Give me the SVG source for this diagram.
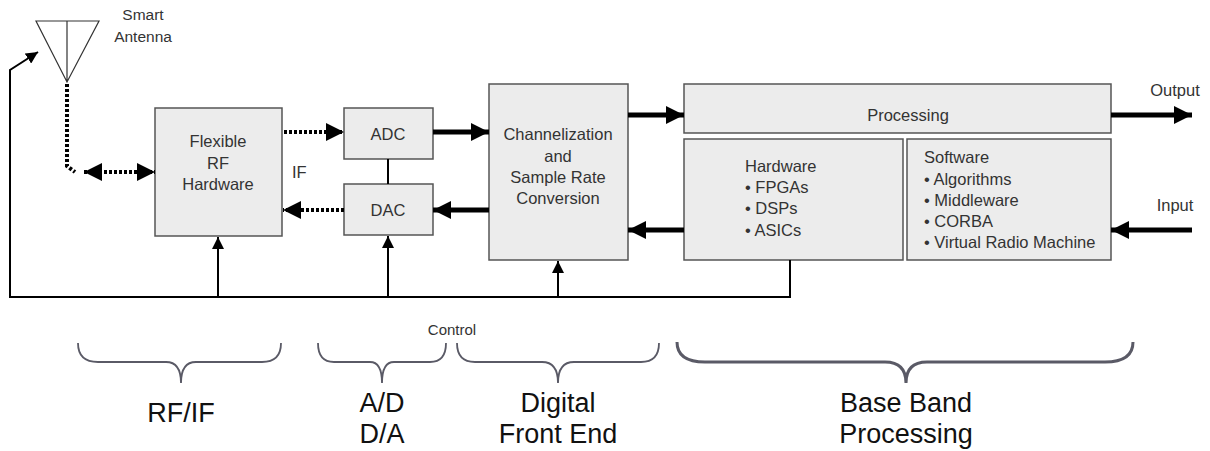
<svg xmlns="http://www.w3.org/2000/svg" width="1210" height="451" viewBox="0 0 1210 451">
<style>
.box{fill:#ececec;stroke:#555;stroke-width:1.5}
.t{font-family:"Liberation Sans",Arial,sans-serif;font-size:16.5px;fill:#333}
.tc{text-anchor:middle}
.big{font-family:"Liberation Sans",Arial,sans-serif;font-size:27px;fill:#111;text-anchor:middle}
.thick{stroke:#000;stroke-width:5;fill:none}
.dot{stroke:#000;stroke-width:4;stroke-dasharray:3 2;fill:none}
.thin{stroke:#000;stroke-width:2;fill:none}
.brace{stroke:#5a5a66;stroke-width:1.8;fill:none}
</style>
<defs>
<marker id="ah" markerUnits="userSpaceOnUse" markerWidth="18" markerHeight="18" refX="18" refY="9" orient="auto"><path d="M0,0 L18,9 L0,18 z" fill="#000"/></marker>
<marker id="ahs" markerUnits="userSpaceOnUse" markerWidth="18" markerHeight="18" refX="18" refY="9" orient="auto-start-reverse"><path d="M0,0 L18,9 L0,18 z" fill="#000"/></marker>
<marker id="as" markerUnits="userSpaceOnUse" markerWidth="12" markerHeight="12" refX="12" refY="6" orient="auto"><path d="M0,0 L12,6 L0,12 z" fill="#000"/></marker>
</defs>

<g id="antenna">
<path d="M36,21 L99,21 L67,82 Z M67,21 L67,82" fill="none" stroke="#333" stroke-width="1.2"/>
<text class="t tc" x="143" y="20" style="font-size:15.5px">Smart</text>
<text class="t tc" x="143" y="42" style="font-size:15.5px">Antenna</text>
</g>

<g id="rf">
<rect class="box" x="155" y="108" width="127" height="128"/>
<text class="t tc" x="218" y="147">Flexible</text>
<text class="t tc" x="218" y="169">RF</text>
<text class="t tc" x="218" y="190">Hardware</text>
</g>
<g id="adc">
<rect class="box" x="344" y="108" width="89" height="51"/>
<text class="t tc" x="388" y="140">ADC</text>
</g>
<g id="dac">
<rect class="box" x="344" y="184" width="89" height="51"/>
<text class="t tc" x="388" y="216">DAC</text>
</g>
<g id="chan">
<rect class="box" x="489" y="84" width="139" height="176"/>
<text class="t tc" x="558" y="140">Channelization</text>
<text class="t tc" x="558" y="162">and</text>
<text class="t tc" x="558" y="183">Sample Rate</text>
<text class="t tc" x="558" y="204">Conversion</text>
</g>
<g id="proc">
<rect class="box" x="684" y="84" width="427" height="49"/>
<text class="t tc" x="908" y="121">Processing</text>
</g>
<g id="hw">
<rect class="box" x="684" y="139" width="219" height="121"/>
<text class="t" x="745" y="172">Hardware</text>
<text class="t" x="745" y="193">• FPGAs</text>
<text class="t" x="745" y="214">• DSPs</text>
<text class="t" x="745" y="236">• ASICs</text>
</g>
<g id="sw">
<rect class="box" x="907" y="139" width="204" height="121"/>
<text class="t" x="924" y="163">Software</text>
<text class="t" x="924" y="185">• Algorithms</text>
<text class="t" x="924" y="206">• Middleware</text>
<text class="t" x="924" y="227">• CORBA</text>
<text class="t" x="924" y="248">• Virtual Radio Machine</text>
</g>

<g id="connectors">
<path class="dot" d="M67,84 L67,166 L75,172"/>
<path class="dot" d="M84,172 L155,172" marker-start="url(#ahs)" marker-end="url(#ahs)"/>
<path class="dot" d="M284,132 L344,132" marker-end="url(#ah)"/>
<path class="dot" d="M344,210 L283,210" marker-end="url(#ah)"/>
<path class="thin" d="M388,159 L388,184"/>
<path class="thick" d="M433,132 L489,132" marker-end="url(#ah)"/>
<path class="thick" d="M489,210 L433,210" marker-end="url(#ah)"/>
<path class="thick" d="M628,115 L684,115" marker-end="url(#ah)"/>
<path class="thick" d="M684,230 L628,230" marker-end="url(#ah)"/>
<path class="thick" d="M1111,115 L1192,115" marker-end="url(#ah)"/>
<path class="thick" d="M1192,230 L1111,230" marker-end="url(#ah)"/>
<path class="thin" d="M790,260 L790,297 L10,297 L10,70 L38,52" marker-end="url(#as)"/>
<path class="thin" d="M218,297 L218,237" marker-end="url(#as)"/>
<path class="thin" d="M388,297 L388,236" marker-end="url(#as)"/>
<path class="thin" d="M558,297 L558,261" marker-end="url(#as)"/>
</g>

<g id="labels">
<text class="t" x="292" y="178">IF</text>
<text class="t tc" x="1175" y="96">Output</text>
<text class="t tc" x="1175" y="211">Input</text>
<text class="t tc" x="452" y="335" style="font-size:15px">Control</text>
</g>

<g id="braces">
<path class="brace" d="M78,343 Q78,362 98,362 L166,362 Q181,362 181,383 Q181,362 196,362 L262,362 Q281,362 281,343"/>
<path class="brace" d="M318,343 Q318,362 334,362 L370,362 Q382,362 382,383 Q382,362 394,362 L430,362 Q446,362 446,343"/>
<path class="brace" d="M457,343 Q457,362 475,362 L542,362 Q558,362 558,383 Q558,362 574,362 L641,362 Q659,362 659,343"/>
<path class="brace" style="stroke-width:3" d="M677,342 Q677,362 705,362 L885,362 Q906,362 906,383 Q906,362 927,362 L1105,362 Q1133,362 1133,342"/>
<text class="big" x="181" y="422">RF/IF</text>
<text class="big" x="382" y="412">A/D</text>
<text class="big" x="382" y="443">D/A</text>
<text class="big" x="558" y="412">Digital</text>
<text class="big" x="558" y="443">Front End</text>
<text class="big" x="906" y="412">Base Band</text>
<text class="big" x="906" y="443">Processing</text>
</g>
</svg>
